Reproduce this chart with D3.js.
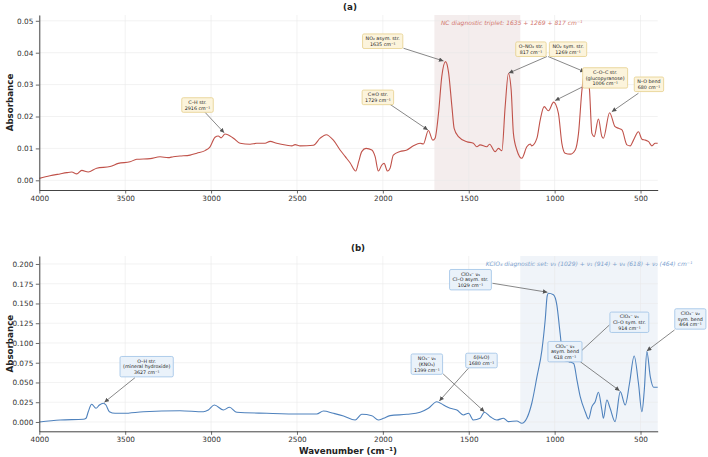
<!DOCTYPE html>
<html><head><meta charset="utf-8">
<script src="https://cdn.jsdelivr.net/npm/d3@7"></script>
<style>body{margin:0;background:#fff} text{font-family:"DejaVu Sans",sans-serif}</style>
</head><body><svg id="c" width="708" height="457"></svg>
<script>
// ---------- DATA ----------
const xTicks = [4000, 3500, 3000, 2500, 2000, 1500, 1000, 500];
const yTicksA = [0, 0.01, 0.02, 0.03, 0.04, 0.05];
const yTicksB = [0, 0.025, 0.05, 0.075, 0.1, 0.125, 0.15, 0.175, 0.2];

const wnA = [4000,3938,3880,3840,3811,3782,3753,3715,3666,3588,3540,3472,3433,3355,3297,3250,3220,3181,3122,3083,3035,3006,2977,2958,2942,2919,2870,2831,2773,2734,2686,2656,2618,2559,2530,2511,2482,2404,2365,2330,2288,2249,2220,2191,2158,2140,2123,2098,2064,2045,2026,2006,1993,1973,1958,1939,1900,1860,1822,1783,1764,1735,1709,1696,1676,1657,1635,1618,1598,1585,1560,1511,1473,1453,1434,1395,1379,1346,1327,1307,1288,1269,1253,1240,1220,1191,1162,1142,1133,1103,1084,1061,1036,1006,978,958,939,909,880,861,841,817,797,783,770,745,725,716,680,648,628,608,579,560,541,512,492,473,453,434,415,400];
const absA = [0.0006,0.0014,0.0020,0.0024,0.0026,0.0020,0.0031,0.0026,0.0038,0.0043,0.0053,0.0058,0.0066,0.0068,0.0074,0.0071,0.0074,0.0076,0.0079,0.0085,0.0093,0.0105,0.0135,0.0139,0.0133,0.0145,0.0132,0.0116,0.0113,0.0116,0.0116,0.0122,0.0116,0.0110,0.0108,0.0112,0.0108,0.0110,0.0132,0.0143,0.0126,0.0095,0.0075,0.0055,0.0029,0.0060,0.0090,0.0100,0.0095,0.0074,0.0029,0.0048,0.0053,0.0029,0.0038,0.0079,0.0090,0.0095,0.0108,0.0116,0.0114,0.0156,0.0126,0.0132,0.0210,0.0325,0.0372,0.0340,0.0231,0.0163,0.0137,0.0121,0.0116,0.0105,0.0111,0.0105,0.0113,0.0090,0.0100,0.0093,0.0231,0.0335,0.0283,0.0147,0.0095,0.0069,0.0105,0.0114,0.0108,0.0132,0.0189,0.0231,0.0218,0.0245,0.0210,0.0116,0.0085,0.0082,0.0095,0.0147,0.0283,0.0350,0.0283,0.0147,0.0137,0.0192,0.0137,0.0132,0.0212,0.0168,0.0163,0.0158,0.0111,0.0108,0.0126,0.0152,0.0129,0.0126,0.0121,0.0108,0.0116,0.0116];

const wnB = [4000,3879,3744,3728,3715,3695,3670,3650,3627,3612,3592,3559,3511,3394,3181,3045,3016,2981,2928,2893,2850,2676,2482,2385,2346,2288,2229,2161,2123,2064,2026,1996,1958,1860,1783,1735,1686,1647,1608,1569,1531,1501,1473,1434,1409,1375,1336,1298,1269,1220,1191,1162,1133,1103,1074,1055,1043,1036,1007,987,968,949,930,914,889,870,851,822,803,783,764,745,725,716,696,677,648,618,589,564,537,512,492,478,463,443,424,400];
const absB = [0.000,0.0025,0.0034,0.0047,0.0130,0.0224,0.0173,0.0215,0.0237,0.0215,0.0130,0.0110,0.0110,0.0130,0.0143,0.0130,0.0152,0.0215,0.0152,0.0186,0.0123,0.0110,0.0101,0.0101,0.0139,0.0110,0.0076,0.0025,0.0097,0.0080,0.0025,0.0047,0.0080,0.0097,0.0123,0.0173,0.0257,0.0215,0.0173,0.0152,0.0089,0.0110,0.0025,0.0047,0.0123,0.0067,0.0025,0.0047,0.0004,0.0013,-0.0017,0.0047,0.0237,0.0570,0.0910,0.1290,0.1600,0.1630,0.1610,0.1480,0.1120,0.0785,0.0770,0.0760,0.0740,0.0530,0.0320,0.0130,0.0038,0.0194,0.0257,0.0376,0.0152,0.0047,0.0278,0.0173,0.0004,0.0384,0.0215,0.0490,0.0835,0.0490,0.0130,0.0405,0.0890,0.0570,0.0440,0.0440];

// annotations: label lines, box centre, arrow start, arrow target (data coords)
const annA = [
  {lines:["C–H str.","2916 cm⁻¹"], box:[3079,0.0236], from:[3035,0.0213], to:[2924,0.0149]},
  {lines:["NO₂ asym. str.","1635 cm⁻¹"], box:[2001,0.0436], from:[1880,0.0414], to:[1647,0.0374]},
  {lines:["C=O str.","1729 cm⁻¹"], box:[2029,0.0260], from:[1958,0.0238], to:[1738,0.0158]},
  {lines:["O–NO₂ str.","817 cm⁻¹"], box:[1138,0.0411], from:[1045,0.0388], to:[1267,0.0336]},
  {lines:["NO₂ sym. str.","1269 cm⁻¹"], box:[922,0.0411], from:[1038,0.0388], to:[825,0.0340]},
  {lines:["C–O–C str.","(glucopyranose)","1006 cm⁻¹"], box:[706,0.0321], from:[841,0.0292], to:[997,0.0250]},
  {lines:["N–O bend","680 cm⁻¹"], box:[451,0.0301], from:[512,0.0273], to:[667,0.0215]}
];
const annB = [
  {lines:["O–H str.","(mineral hydroxide)","3627 cm⁻¹"], box:[3375,0.0700], from:[3443,0.0561], to:[3621,0.0249]},
  {lines:["NO₃⁻ ν₃","(KNO₃)","1399 cm⁻¹"], box:[1744,0.0732], from:[1649,0.0608], to:[1409,0.0130]},
  {lines:["δ(H₂O)","1680 cm⁻¹"], box:[1426,0.0778], from:[1502,0.0680], to:[1671,0.0266]},
  {lines:["ClO₄⁻ ν₃","Cl–O asym. str.","1029 cm⁻¹"], box:[1490,0.1801], from:[1362,0.1756], to:[1042,0.1642]},
  {lines:["ClO₄⁻ ν₁","Cl–O sym. str.","914 cm⁻¹"], box:[565,0.1262], from:[681,0.1228], to:[914,0.0760]},
  {lines:["ClO₄⁻ ν₄","asym. bend","618 cm⁻¹"], box:[940,0.0890], from:[851,0.0763], to:[622,0.0396]},
  {lines:["ClO₄⁻ ν₂","sym. bend","464 cm⁻¹"], box:[210,0.1304], from:[302,0.1165], to:[463,0.0900]}
];

// ---------- DRAW ----------
const svg = d3.select("#c");
const x = d3.scaleLinear().domain([4000, 400]).range([39.3, 657.7]);

const defs = svg.append("defs");
defs.append("marker").attr("id","ah").attr("viewBox","0 0 10 10")
  .attr("refX",10).attr("refY",5).attr("markerWidth",5).attr("markerHeight",4.5)
  .attr("markerUnits","userSpaceOnUse").attr("orient","auto")
  .append("path").attr("d","M0,0L10,5L0,10z").attr("fill","#555");

function panel(cfg) {
  const y = d3.scaleLinear().domain(cfg.ydom).range(cfg.yrange);
  const g = svg.append("g");
  const [yb, yt] = cfg.yrange;
  // shaded band
  g.append("rect").attr("x", x(cfg.band[0])).attr("width", x(cfg.band[1]) - x(cfg.band[0]))
    .attr("y", yt).attr("height", yb - yt).attr("fill", cfg.bandFill);
  // grid
  g.append("g").selectAll("line").data(xTicks).join("line")
    .attr("x1", d => x(d)).attr("x2", d => x(d)).attr("y1", yt).attr("y2", yb)
    .attr("stroke", "#e9e9e9").attr("stroke-width", 0.6);
  g.append("g").selectAll("line").data(cfg.yTicks).join("line")
    .attr("x1", x(4000)).attr("x2", x(400)).attr("y1", d => y(d)).attr("y2", d => y(d))
    .attr("stroke", "#e9e9e9").attr("stroke-width", 0.6);
  // band label
  g.append("text").attr("x", x(cfg.bandText[1])).attr("y", y(cfg.bandText[2]))
    .attr("dy","0.35em").attr("text-anchor","middle").attr("font-style","italic")
    .attr("font-size", 6).attr("fill", cfg.bandTextColor).text(cfg.bandText[0]);
  // curve
  const pts = cfg.wn.map((w, i) => [w, cfg.abs[i]]);
  g.append("path").datum(pts)
    .attr("d", d3.line().x(d => x(d[0])).y(d => y(d[1])).curve(d3.curveMonotoneX))
    .attr("fill","none").attr("stroke", cfg.color).attr("stroke-width", 1.1);
  // axes
  const ax = g.append("g").attr("transform", `translate(0,${yb})`)
    .call(d3.axisBottom(x).tickValues(xTicks).tickSize(3.5).tickPadding(2).tickSizeOuter(0).tickFormat(d3.format("d")));
  const ay = g.append("g").attr("transform", `translate(${x(4000)},0)`)
    .call(d3.axisLeft(y).tickValues(cfg.yTicks).tickSize(3.5).tickPadding(2.5).tickSizeOuter(0).tickFormat(d3.format(cfg.fmt)));
  [ax, ay].forEach(a => {
    a.select(".domain").attr("stroke", "#444").attr("stroke-width", 1);
    a.selectAll(".tick line").attr("stroke", "#444").attr("stroke-width", 0.8);
    a.selectAll(".tick text").attr("font-size", 7.3).attr("fill", "#333").attr("font-family", '"DejaVu Sans",sans-serif');
  });
  // y label
  g.append("text").attr("transform", `translate(10,${(yb + yt) / 2}) rotate(-90)`)
    .attr("text-anchor","middle").attr("dy","0.35em").attr("font-weight","bold")
    .attr("font-size", 8.7).attr("fill", "#222").text("Absorbance");
  // title
  g.append("text").attr("x", cfg.titleX).attr("y", yt - 8.5).attr("dy","0.35em")
    .attr("text-anchor","middle").attr("font-weight","bold").attr("font-size", 8.7)
    .attr("fill","#222").text(cfg.title);
  // arrows
  g.append("g").selectAll("line").data(cfg.ann).join("line")
    .attr("x1", d => x(d.from[0])).attr("y1", d => y(d.from[1]))
    .attr("x2", d => x(d.to[0])).attr("y2", d => y(d.to[1]))
    .attr("stroke", "#555").attr("stroke-width", 0.7).attr("marker-end", "url(#ah)");
  // boxes
  const fs = 4.8, lh = 5.8, padX = 3, padY = 1.5;
  cfg.ann.forEach(d => {
    const bx = x(d.box[0]), by = y(d.box[1]);
    const n = d.lines.length;
    const bg = g.append("g");
    const rect = bg.append("rect");
    const t = bg.append("text").attr("text-anchor","middle").attr("font-size", fs).attr("fill","#222");
    d.lines.forEach((l, i) => {
      t.append("tspan").attr("x", bx).attr("y", by + (i - (n - 1) / 2) * lh).attr("dy","0.35em").text(l);
    });
    const w = t.node().getComputedTextLength ? d3.max(t.selectAll("tspan").nodes(), nd => nd.getComputedTextLength()) : 40;
    const h = n * lh;
    rect.attr("x", bx - w / 2 - padX).attr("y", by - h / 2 - padY)
      .attr("width", w + 2 * padX).attr("height", h + 2 * padY).attr("rx", 1.5)
      .attr("fill", cfg.boxFill).attr("stroke", cfg.boxStroke).attr("stroke-width", 0.8);
  });
  return y;
}

panel({
  wn: wnA, abs: absA, ydom: [-0.00304, 0.05182], yrange: [190, 15], yTicks: yTicksA, fmt: ".2f",
  color: "#c0524a", band: [1700, 1200], bandFill: "#f4eded",
  bandText: ["NC diagnostic triplet: 1635 + 1269 + 817 cm⁻¹", 1250, 0.0494], bandTextColor: "#d27770",
  title: "(a)", titleX: 350, ann: annA, boxFill: "#fcf4dc", boxStroke: "#e6cf8c"
});
panel({
  wn: wnB, abs: absB, ydom: [-0.0118, 0.2101], yrange: [431.3, 256], yTicks: yTicksB, fmt: ".3f",
  color: "#4f82bd", band: [1200, 400], bandFill: "#f0f4f9",
  bandText: ["KClO₄ diagnostic set: ν₃ (1029) + ν₁ (914) + ν₄ (618) + ν₂ (464) cm⁻¹", 800, 0.2], bandTextColor: "#7ea3cf",
  title: "(b)", titleX: 358, ann: annB, boxFill: "#eaf2fa", boxStroke: "#9dc1e6"
});

svg.append("text").attr("x", 348).attr("y", 451).attr("dy","0.35em").attr("text-anchor","middle")
  .attr("font-weight","bold").attr("font-size", 8.7).attr("fill","#222").text("Wavenumber (cm⁻¹)");
</script></body></html>
